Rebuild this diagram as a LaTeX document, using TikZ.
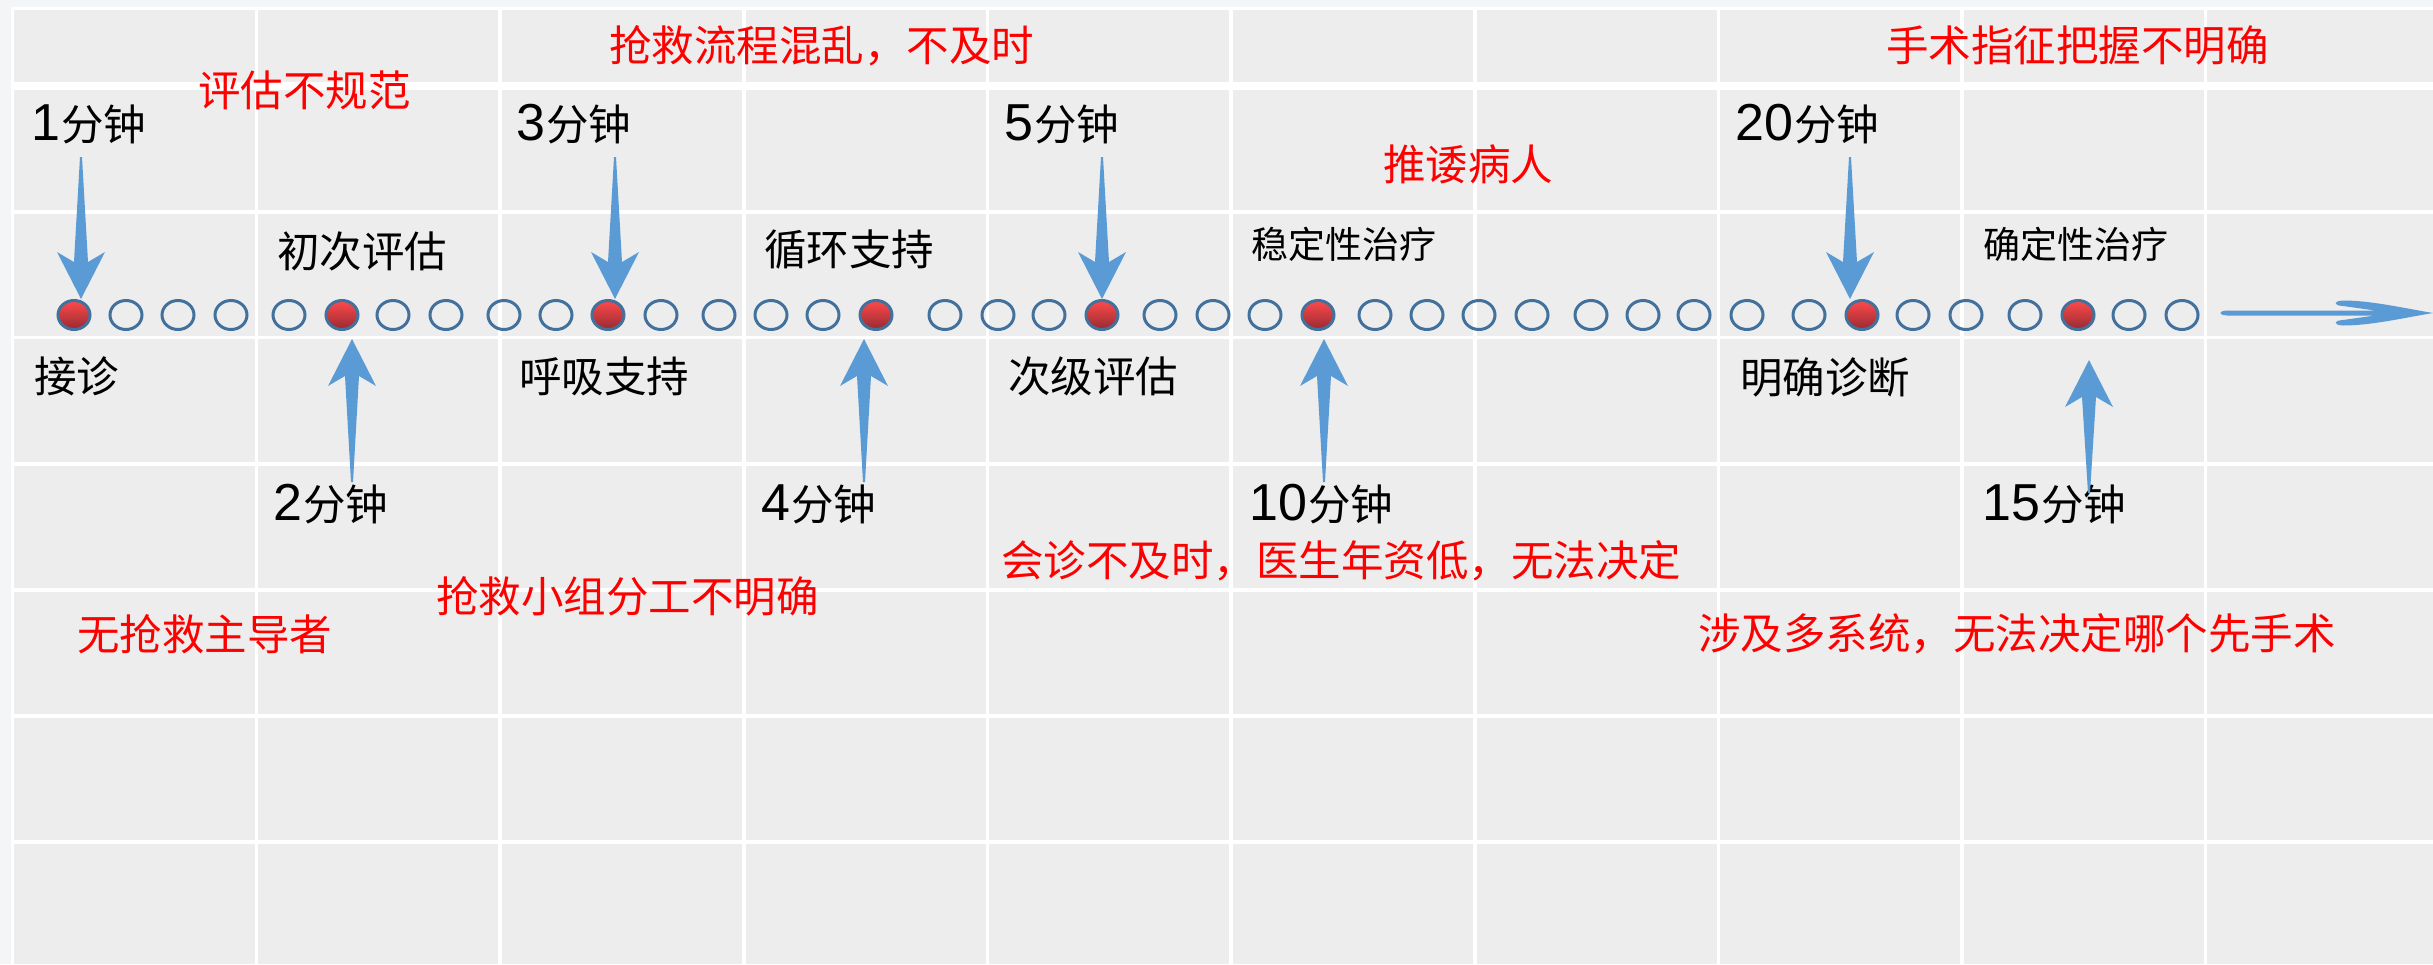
\documentclass[tikz,border=0pt]{standalone}
\usepackage{fontspec}
\setmainfont{Noto Sans CJK SC}
\newfontfamily\numfont{Liberation Sans}
\usetikzlibrary{calc,shapes.geometric}
\definecolor{bgout}{HTML}{F4F5F7}
\definecolor{cellgray}{HTML}{EDEDED}
\definecolor{arrowblue}{HTML}{5B9BD5}
\definecolor{dotedge}{HTML}{41719C}
\definecolor{redtop}{HTML}{FF4A4A}
\definecolor{redbot}{HTML}{962A33}
\definecolor{alarm}{HTML}{FF0000}
\newcommand\dg[1]{{\numfont\fontsize{52}{60}\selectfont #1}\kern1pt}
% tapered block arrow from tail coordinate #1 to tip coordinate #2; #3 = 1 (down) or -1 (up)
\newcommand\vtaper[3]{%
  \fill[arrowblue] let \p1=(#1), \p2=(#2) in
    ({\x2-1pt},\y1) -- ({\x2-7pt},{\y2+(#3*37pt)}) -- ({\x2-24pt},{\y2+(#3*47pt)})
    -- (\x2,\y2) -- ({\x2+24pt},{\y2+(#3*47pt)}) -- ({\x2+7pt},{\y2+(#3*37pt)})
    -- ({\x2+1pt},\y1) -- cycle;}
\begin{document}
\begin{tikzpicture}[x=1pt,y=-1pt,
  lbl/.style={anchor=west,inner sep=0pt,font=\fontsize{42.5}{50}\selectfont},
  smalllbl/.style={anchor=west,inner sep=0pt,font=\fontsize{37}{44}\selectfont},
  redlbl/.style={lbl,text=alarm},
  odot/.style={ellipse,draw=dotedge,line width=3pt,minimum width=32pt,minimum height=29pt,inner sep=0pt},
  rdot/.style={odot,top color=redtop,bottom color=redbot},
  gridline/.style={white,line width=3.5pt}]
\useasboundingbox (0,0) rectangle (2433,964);
% background table
\fill[bgout] (0,0) rectangle (2433,964);
\fill[white] (11,7) rectangle (2433,964);
\fill[cellgray] (14,10) rectangle (2433,964);
\foreach \xx in {256.5,500,744,987.5,1231,1475,1718.5,1962,2205.5}
  \draw[gridline] (\xx,10) -- (\xx,964);
\fill[white] (14,82) rectangle (2433,89.5);
\foreach \yy in {212,337.5,464,590,716,842}
  \draw[gridline] (14,\yy) -- (2433,\yy);
% dots
\foreach \i/\xx in {2/126,3/178,4/231,5/289,7/393,8/446,9/504,10/556,12/661,13/719,14/771,15/823,
  17/945,18/998,19/1049,21/1160,22/1213,23/1265,25/1375,26/1427,27/1479,28/1532,29/1591,30/1643,
  31/1694,32/1747,33/1809,35/1913,36/1966,37/2025,39/2129,40/2182}
  \node[odot] (d\i) at (\xx,315) {};
\foreach \i/\xx in {1/74,6/342,11/608,16/876,20/1102,24/1318,34/1862,38/2078}
  \node[rdot] (d\i) at (\xx,315) {};
% black labels
\node[lbl] (t1) at (31,124) {\dg{1}分钟};
\node[lbl] (t3) at (516,124) {\dg{3}分钟};
\node[lbl] (t5) at (1004,124) {\dg{5}分钟};
\node[lbl] (t20) at (1735,124) {\dg{20}分钟};
\node[lbl] (s1) at (277,251) {初次评估};
\node[lbl] (s2) at (764,250) {循环支持};
\node[smalllbl] (s3) at (1251,244) {稳定性治疗};
\node[smalllbl] (s4) at (1983,244) {确定性治疗};
\node[lbl] (b1) at (34,376) {接诊};
\node[lbl] (b2) at (519,376) {呼吸支持};
\node[lbl] (b3) at (1008,376) {次级评估};
\node[lbl] (b4) at (1740,377) {明确诊断};
\node[lbl] (t2) at (273,504) {\dg{2}分钟};
\node[lbl] (t4) at (761,504) {\dg{4}分钟};
\node[lbl] (t10) at (1249,504) {\dg{10}分钟};
\node[lbl] (t15) at (1982,504) {\dg{15}分钟};
% red remarks
\node[redlbl] (r1) at (198,90) {评估不规范};
\node[redlbl] (r2) at (609,46) {抢救流程混乱，不及时};
\node[redlbl] (r3) at (1886,45) {手术指征把握不明确};
\node[redlbl] (r4) at (1383,164) {推诿病人};
\node[redlbl] (r5) at (1001,561) {会诊不及时，医生年资低，无法决定};
\node[redlbl] (r6) at (436,596) {抢救小组分工不明确};
\node[redlbl] (r7) at (77,634) {无抢救主导者};
\node[redlbl] (r8) at (1698,634) {涉及多系统，无法决定哪个先手术};
% arrow end points
\coordinate (a1t) at (81,157);   \coordinate (a1h) at (81,299);
\coordinate (a3t) at (615,157);  \coordinate (a3h) at (615,299);
\coordinate (a5t) at (1102,157); \coordinate (a5h) at (1102,299);
\coordinate (a20t) at (1850,157);\coordinate (a20h) at (1850,299);
\coordinate (a2t) at (352,482);  \coordinate (a2h) at (352,339);
\coordinate (a4t) at (864,482);  \coordinate (a4h) at (864,339);
\coordinate (a10t) at (1324,482);\coordinate (a10h) at (1324,339);
\coordinate (a15t) at (2089,493);\coordinate (a15h) at (2089,360);
\vtaper{a1t}{a1h}{1}
\vtaper{a3t}{a3h}{1}
\vtaper{a5t}{a5h}{1}
\vtaper{a20t}{a20h}{1}
\vtaper{a2t}{a2h}{-1}
\vtaper{a4t}{a4h}{-1}
\vtaper{a10t}{a10h}{-1}
\vtaper{a15t}{a15h}{-1}
% time axis arrow
\coordinate (ra0) at (2219,313);
\coordinate (ra1) at (2433,313);
\fill[arrowblue] let \p1=(ra0), \p2=(ra1) in
  (\x2,\y2) .. controls ({\x2-30pt},{\y2+5pt}) and ({\x2-62pt},{\y2+12.5pt}) .. ({\x2-90pt},{\y2+12.5pt})
  .. controls ({\x2-100pt},{\y2+12pt}) and ({\x2-100pt},{\y2+7.5pt}) .. ({\x2-90pt},{\y2+7pt})
  -- ({\x2-58pt},{\y2+2.5pt}) -- ({\x1+8pt},{\y1+2.5pt})
  .. controls ({\x1-1pt},{\y1+2pt}) and ({\x1-1pt},{\y1-2pt}) .. ({\x1+8pt},{\y1-2.5pt})
  -- ({\x2-58pt},{\y2-2.5pt}) -- ({\x2-90pt},{\y2-7pt})
  .. controls ({\x2-100pt},{\y2-7.5pt}) and ({\x2-100pt},{\y2-12pt}) .. ({\x2-90pt},{\y2-12.5pt})
  .. controls ({\x2-62pt},{\y2-12.5pt}) and ({\x2-30pt},{\y2-5pt}) .. (\x2,\y2) -- cycle;
\end{tikzpicture}
\end{document}
